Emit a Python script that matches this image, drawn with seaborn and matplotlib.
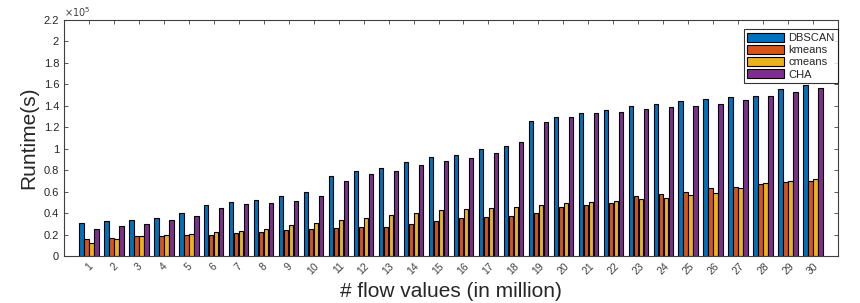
import pandas as pd
import matplotlib
matplotlib.use("Agg")
import matplotlib.pyplot as plt
import seaborn as sns
from matplotlib.ticker import FuncFormatter, MultipleLocator

# runtime values (seconds)
flows = list(range(1, 31))
dbscan = [0.307, 0.33, 0.34, 0.355, 0.40, 0.48, 0.50, 0.52, 0.555, 0.60,
          0.745, 0.795, 0.82, 0.88, 0.92, 0.94, 0.995, 1.03, 1.255, 1.30,
          1.335, 1.365, 1.395, 1.42, 1.445, 1.46, 1.48, 1.495, 1.555, 1.59]
kmeans = [0.155, 0.17, 0.185, 0.19, 0.20, 0.20, 0.215, 0.22, 0.24, 0.25,
          0.26, 0.27, 0.275, 0.30, 0.33, 0.35, 0.36, 0.37, 0.40, 0.455,
          0.475, 0.49, 0.555, 0.575, 0.595, 0.63, 0.645, 0.67, 0.69, 0.70]
cmeans = [0.12, 0.155, 0.19, 0.20, 0.205, 0.22, 0.235, 0.255, 0.285, 0.305,
          0.335, 0.355, 0.38, 0.40, 0.43, 0.44, 0.445, 0.455, 0.48, 0.49,
          0.505, 0.515, 0.535, 0.545, 0.565, 0.59, 0.63, 0.68, 0.695, 0.72]
cha = [0.255, 0.28, 0.30, 0.335, 0.37, 0.45, 0.485, 0.49, 0.515, 0.56,
       0.70, 0.76, 0.795, 0.85, 0.885, 0.91, 0.96, 1.06, 1.245, 1.295,
       1.33, 1.34, 1.37, 1.385, 1.40, 1.415, 1.45, 1.49, 1.525, 1.565]
methods = ["DBSCAN", "kmeans", "cmeans", "CHA"]
colors = ["#0072BD", "#D95319", "#EDB120", "#7E2F8E"]

rows = []
for name, vals in zip(methods, [dbscan, kmeans, cmeans, cha]):
    for f, v in zip(flows, vals):
        rows.append({"flow": str(f), "method": name, "runtime": v * 1e5})
df = pd.DataFrame(rows)

sns.set_style("ticks")
plt.rcParams["font.family"] = ["Liberation Sans", "DejaVu Sans"]

fig = plt.figure(figsize=(8.6, 3.03), dpi=100)
ax = fig.add_axes([0.0744, 0.155, 0.9, 0.779])

sns.barplot(data=df, x="flow", y="runtime", hue="method", hue_order=methods,
            palette=colors, order=[str(f) for f in flows], width=0.8, gap=0.12,
            saturation=1, edgecolor="black", linewidth=0.8, ax=ax)

ax.set_xlim(-1, 30)
ax.set_ylim(0, 2.2e5)
ax.yaxis.set_major_locator(MultipleLocator(0.2e5))
ax.yaxis.set_major_formatter(FuncFormatter(lambda v, p: "%g" % round(v / 1e5, 2)))
ax.text(0.0, 1.005, r"$\times10^5$", transform=ax.transAxes, fontsize=7,
        color="#404040", ha="left", va="bottom")

ax.tick_params(axis="both", direction="in", top=True, right=True,
               length=3, width=0.6, colors="#404040")
ax.tick_params(axis="y", labelsize=8, labelcolor="#262626")
ax.tick_params(axis="x", labelsize=7.5, labelrotation=45, labelcolor="#404040")
for s in ax.spines.values():
    s.set_visible(True)
    s.set_linewidth(0.8)
    s.set_color("#404040")

ax.set_xlabel("# flow values (in million)", fontsize=15, color="#262626")
ax.set_ylabel("Runtime(s)", fontsize=15, color="#262626", labelpad=4)

leg = ax.legend(loc="upper right", bbox_to_anchor=(1.0, 0.96), fontsize=8,
                frameon=True, fancybox=False, edgecolor="black",
                handlelength=3.3, handleheight=0.9, labelspacing=0.15,
                borderpad=0.3, handletextpad=0.4, borderaxespad=0.0)
leg.get_frame().set_linewidth(0.8)

plt.savefig("out.png", dpi=100)
